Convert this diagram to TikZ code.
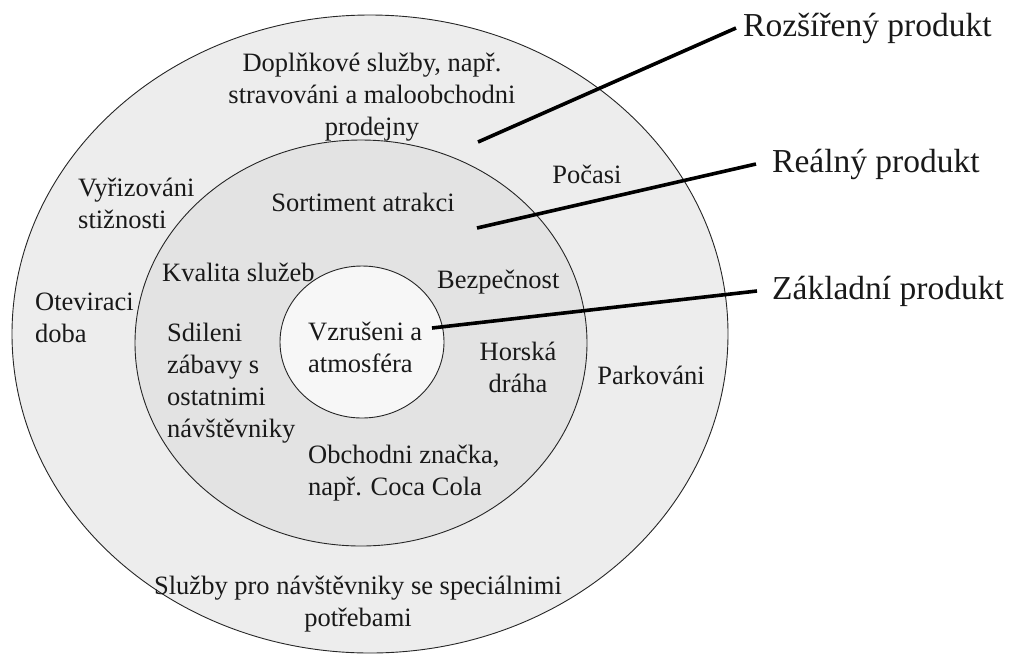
\documentclass[tikz,border=0pt]{standalone}
\usepackage{fontspec}
\setmainfont{Liberation Serif}
\usetikzlibrary{shapes.geometric}
\begin{document}
\begin{tikzpicture}[x=1pt,y=-1pt,
  ring/.style={ellipse, draw=black!85, line width=0.9pt, inner sep=0pt},
  txt/.style={inner sep=0pt, font=\fontsize{26.5}{32}\selectfont, text=black!90},
  lbl/.style={inner ysep=3pt, font=\fontsize{33.5}{39}\selectfont, text=black!90, anchor=west},
  pointer/.style={line width=3.6pt, black}]
\useasboundingbox (0,0) rectangle (1011,657);
% rings
\node[ring, fill=black!7, minimum width=716pt, minimum height=638pt] (outer) at (370,334) {};
\node[ring, fill=black!11, minimum width=452pt, minimum height=406pt] (middle) at (361,343) {};
\node[ring, fill=black!3, minimum width=164pt, minimum height=152pt] (inner) at (362,342) {};
% outer ring texts
\node[txt, align=center] (doplnk) at (372,97) {Doplňkové služby, např.\\ stravováni a maloobchodni\\ prodejny};
\node[txt, align=left, anchor=west] (vyriz) at (78,203) {Vyřizováni\\ stižnosti};
\node[txt, align=left, anchor=west] (otev) at (35,318) {Oteviraci\\ doba};
\node[txt] (pocasi) at (587,174) {Počasi};
\node[txt] (park) at (651,375) {Parkováni};
\node[txt, align=center] (sluzby) at (358,604) {Služby pro návštěvniky se speciálnimi\\ potřebami};
% middle ring texts
\node[txt] (sort) at (363,202) {Sortiment atrakci};
\node[txt, anchor=west] (kval) at (162,272) {Kvalita služeb};
\node[txt, anchor=west] (bezp) at (437,282) {Bezpečnost};
\node[txt, align=left, anchor=west] (sdil) at (167,383) {Sdileni\\ zábavy s\\ ostatnimi\\ návštěvniky};
\node[txt, align=center] (horska) at (518,367) {Horská\\ dráha};
\node[txt, align=left, anchor=west] (obch) at (308,473) {Obchodni značka,\\ např. Coca Cola};
% inner texts
\node[txt, align=left, anchor=west] (vzrus) at (308,347) {Vzrušeni a\\ atmosféra};
% right labels
\node[lbl, inner xsep=7pt] (rozs) at (736,28) {Rozšířený produkt};
\node[lbl, inner xsep=16pt] (real) at (756,164) {Reálný produkt};
\node[lbl, inner xsep=15pt] (zakl) at (757,291) {Základní produkt};
% pointers
\coordinate (p1) at (478,142);
\coordinate (p2) at (477,228);
\coordinate (p3) at (432,328);
\draw[pointer] (p1) -- (rozs.west);
\draw[pointer] (p2) -- (real.west);
\draw[pointer] (p3) -- (zakl.west);
\end{tikzpicture}
\end{document}
